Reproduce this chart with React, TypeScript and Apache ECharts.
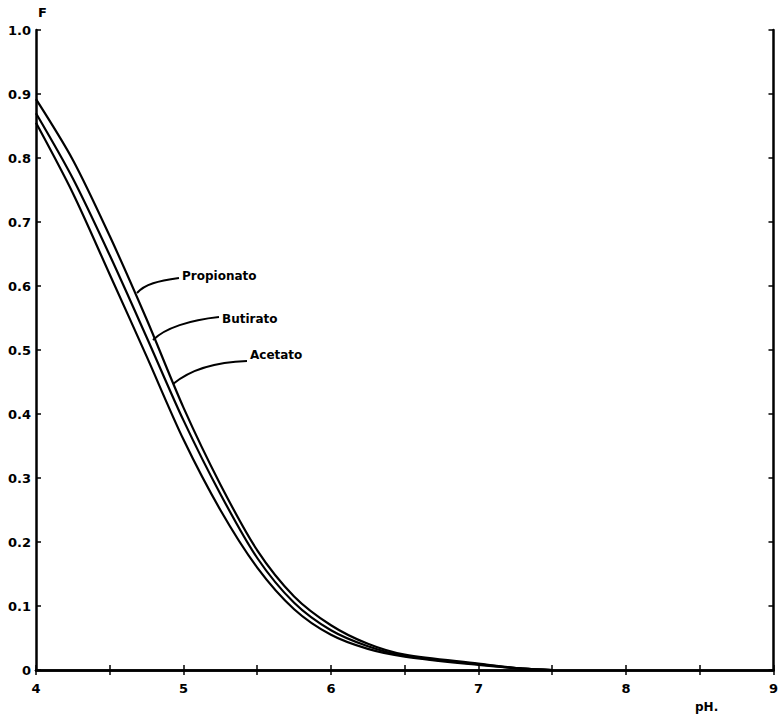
import React, { useEffect, useRef } from "react";
import * as echarts from "echarts";

const xTicks = [4, 5, 6, 7, 8, 9];
const yTicks = [0, 0.1, 0.2, 0.3, 0.4, 0.5, 0.6, 0.7, 0.8, 0.9, 1.0];

const pH = [4.0, 4.25, 4.5, 4.75, 5.0, 5.25, 5.5, 5.75, 6.0, 6.25, 6.5, 7.0, 7.3, 7.5];
const acetatoF = [0.855, 0.745, 0.618, 0.49, 0.36, 0.25, 0.16, 0.095, 0.055, 0.033, 0.021, 0.008, 0.002, 0];
const butiratoF = [0.87, 0.768, 0.648, 0.52, 0.39, 0.275, 0.175, 0.105, 0.062, 0.037, 0.022, 0.009, 0.002, 0];
const propionatoF = [0.892, 0.797, 0.678, 0.548, 0.41, 0.29, 0.187, 0.115, 0.07, 0.041, 0.024, 0.01, 0.002, 0];

const FONT = "DejaVu Sans";

export default function App() {
  const ref = useRef<HTMLDivElement>(null);
  useEffect(() => {
    if (!ref.current) return;
    const chart = echarts.init(ref.current, undefined, { renderer: "svg" });
    const axisLine = { show: true, lineStyle: { color: "#000", width: 2.5 } };
    const tickStyle = { show: true, inside: true, length: 5, lineStyle: { color: "#000", width: 1.5 } };
    const lineSeries = (name: string, values: number[]) => ({
      name,
      type: "line",
      data: pH.map((x, i) => [x, values[i]]),
      xAxisIndex: 0,
      yAxisIndex: 0,
      smooth: 0.3,
      symbol: "none",
      lineStyle: { color: "#000", width: 2.2 },
    });
    chart.setOption({
      animation: false,
      backgroundColor: "#fff",
      grid: { left: 36, right: 7, top: 30, bottom: 51 },
      xAxis: [
        {
          type: "value",
          min: 4,
          max: 9,
          interval: 0.5,
          position: "bottom",
          axisLine,
          axisTick: tickStyle,
          splitLine: { show: false },
          axisLabel: {
            color: "#000",
            fontFamily: FONT,
            fontWeight: "bold",
            fontSize: 13,
            margin: 12,
            formatter: (v: number) => (xTicks.includes(v) ? String(v) : ""),
          },
        },
        {
          type: "value",
          min: 4,
          max: 9,
          interval: 0.5,
          position: "top",
          axisLine,
          axisTick: tickStyle,
          splitLine: { show: false },
          axisLabel: { show: false },
        },
      ],
      yAxis: [
        {
          type: "value",
          min: 0,
          max: 1,
          interval: 0.1,
          position: "left",
          axisLine,
          axisTick: tickStyle,
          splitLine: { show: false },
          axisLabel: {
            color: "#000",
            fontFamily: FONT,
            fontWeight: "bold",
            fontSize: 13,
            margin: 5,
            formatter: (v: number) => {
              const t = yTicks.find((y) => Math.abs(y - v) < 1e-6);
              if (t === undefined) return "";
              if (t === 0) return "0";
              return t.toFixed(1);
            },
          },
        },
        {
          type: "value",
          min: 0,
          max: 1,
          interval: 0.1,
          position: "right",
          axisLine,
          axisTick: tickStyle,
          splitLine: { show: false },
          axisLabel: { show: false },
        },
      ],
      series: [
        lineSeries("Acetato", acetatoF),
        lineSeries("Butirato", butiratoF),
        lineSeries("Propionato", propionatoF),
      ],
      graphic: [
        {
          type: "text",
          left: 38,
          top: 6,
          style: { text: "F", font: `bold 13px "${FONT}"`, fill: "#000" },
        },
        {
          type: "text",
          left: 695,
          top: 701,
          style: { text: "pH.", font: `bold 12px "${FONT}"`, fill: "#000" },
        },
        {
          type: "text",
          left: 182,
          top: 270,
          style: { text: "Propionato", font: `bold 12px "${FONT}"`, fill: "#000" },
        },
        {
          type: "text",
          left: 222,
          top: 313,
          style: { text: "Butirato", font: `bold 12px "${FONT}"`, fill: "#000" },
        },
        {
          type: "text",
          left: 250,
          top: 349,
          style: { text: "Acetato", font: `bold 12px "${FONT}"`, fill: "#000" },
        },
        {
          type: "bezierCurve",
          shape: { x1: 179, y1: 278, cpx1: 158, cpy1: 281, cpx2: 145, cpy2: 284, x2: 137, y2: 293 },
          style: { stroke: "#000", lineWidth: 2, fill: "none" },
        },
        {
          type: "bezierCurve",
          shape: { x1: 219, y1: 317, cpx1: 190, cpy1: 320, cpx2: 165, cpy2: 328, x2: 153, y2: 340 },
          style: { stroke: "#000", lineWidth: 2, fill: "none" },
        },
        {
          type: "bezierCurve",
          shape: { x1: 247, y1: 361, cpx1: 215, cpy1: 362, cpx2: 190, cpy2: 370, x2: 173, y2: 384 },
          style: { stroke: "#000", lineWidth: 2, fill: "none" },
        },
      ],
    });
    return () => chart.dispose();
  }, []);
  return (
    <div
      ref={ref}
      style={{ position: "absolute", left: 0, top: 0, width: 781, height: 721, background: "#fff" }}
    />
  );
}
